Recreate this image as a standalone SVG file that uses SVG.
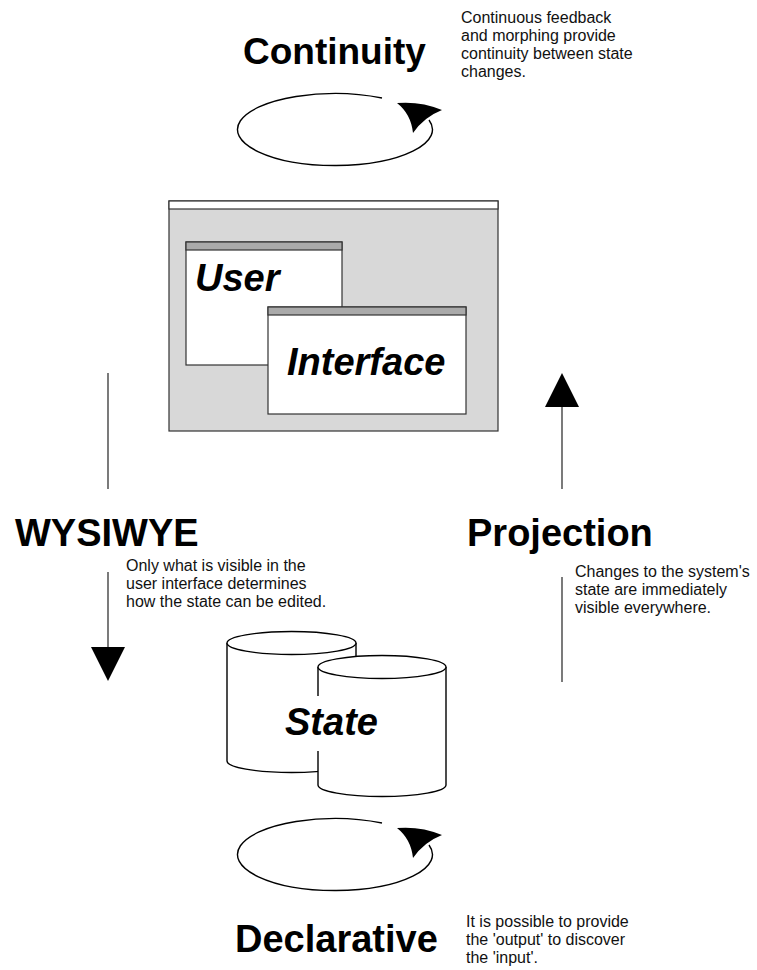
<svg xmlns="http://www.w3.org/2000/svg" width="757" height="970" viewBox="0 0 757 970">
  <style>
    .title { font-family: "Liberation Sans", Arial, Helvetica, sans-serif; font-weight: bold; font-size: 38px; fill: #000; }
    .label { font-family: "Liberation Sans", Arial, Helvetica, sans-serif; font-weight: bold; font-style: italic; font-size: 38px; fill: #000; }
    .note { font-family: "Liberation Sans", Arial, Helvetica, sans-serif; font-size: 16px; fill: #111; }
    .win { fill: #fff; stroke: #333; stroke-width: 1.2; }
    .bar { fill: #aaaaaa; stroke: #333; stroke-width: 1.2; }
    .line { stroke: #333; stroke-width: 1.3; fill: none; }
    .loop { stroke: #000; stroke-width: 1.4; fill: none; }
    .cyl { fill: #fff; stroke: #000; stroke-width: 1.4; }
  </style>
  <defs>
    <!-- swept arrowhead at the end of a loop -->
    <path id="loopHead" d="M397,103 Q421,101 442,110 Q424,117 413,133 Q411,114 397,103 Z" fill="#000"/>
    <path id="loopArc" d="M382,98 A97.5,36 0 1 0 429,120"/>
  </defs>

  <rect width="757" height="970" fill="#fff"/>

  <!-- Continuity -->
  <g id="continuity">
    <text class="title" x="243" y="64" style="font-size:37px">Continuity</text>
    <text class="note" x="461" y="23">Continuous feedback</text>
    <text class="note" x="461" y="41">and morphing provide</text>
    <text class="note" x="461" y="59">continuity between state</text>
    <text class="note" x="461" y="77">changes.</text>
    <use href="#loopArc" class="loop"/>
    <use href="#loopHead"/>
  </g>

  <!-- User interface window stack -->
  <g id="user-interface">
    <rect x="169" y="201" width="329" height="230" fill="#d8d8d8" stroke="#333" stroke-width="1.2"/>
    <rect x="169" y="201" width="329" height="8" fill="#fff" stroke="#333" stroke-width="1.2"/>
    <rect class="win" x="186" y="242" width="156" height="123"/>
    <rect class="bar" x="186" y="242" width="156" height="8"/>
    <text class="label" x="195" y="291">User</text>
    <rect class="win" x="268" y="307" width="198" height="107"/>
    <rect class="bar" x="268" y="307" width="198" height="8"/>
    <text class="label" x="287" y="375">Interface</text>
  </g>

  <!-- State cylinders -->
  <g id="state">
    <path class="cyl" d="M227,643 L227,761 A64.5,11.5 0 0 0 356,761 L356,643"/>
    <ellipse class="cyl" cx="291.5" cy="643" rx="64.5" ry="11.5"/>
    <path class="cyl" d="M318,667 L318,785 A64,11.5 0 0 0 446,785 L446,667"/>
    <ellipse class="cyl" cx="382" cy="667" rx="64" ry="11.5"/>
    <rect x="283" y="696" width="97" height="55" fill="#fff"/>
    <text class="label" x="285" y="735">State</text>
  </g>

  <!-- WYSIWYE -->
  <g id="wysiwye">
    <text class="title" x="15" y="546">WYSIWYE</text>
    <text class="note" x="126" y="571">Only what is visible in the</text>
    <text class="note" x="126" y="589">user interface determines</text>
    <text class="note" x="126" y="607">how the state can be edited.</text>
  </g>

  <!-- Projection -->
  <g id="projection">
    <text class="title" x="467" y="546">Projection</text>
    <text class="note" x="575" y="577">Changes to the system's</text>
    <text class="note" x="575" y="595">state are immediately</text>
    <text class="note" x="575" y="613">visible everywhere.</text>
  </g>

  <!-- Declarative -->
  <g id="declarative">
    <text class="title" x="235" y="952">Declarative</text>
    <text class="note" x="466" y="927">It is possible to provide</text>
    <text class="note" x="466" y="945">the 'output' to discover</text>
    <text class="note" x="466" y="963">the 'input'.</text>
    <g transform="translate(0,725)">
      <use href="#loopArc" class="loop"/>
      <use href="#loopHead"/>
    </g>
  </g>

  <!-- connectors -->
  <g id="connectors">
    <line class="line" x1="108" y1="373" x2="108" y2="489"/>
    <line class="line" x1="108" y1="572" x2="108" y2="650"/>
    <polygon points="91,647 125,647 108,681" fill="#000"/>
    <line class="line" x1="562" y1="404" x2="562" y2="489"/>
    <polygon points="545,407 579,407 562,373" fill="#000"/>
    <line class="line" x1="562" y1="577" x2="562" y2="682"/>
  </g>
</svg>
